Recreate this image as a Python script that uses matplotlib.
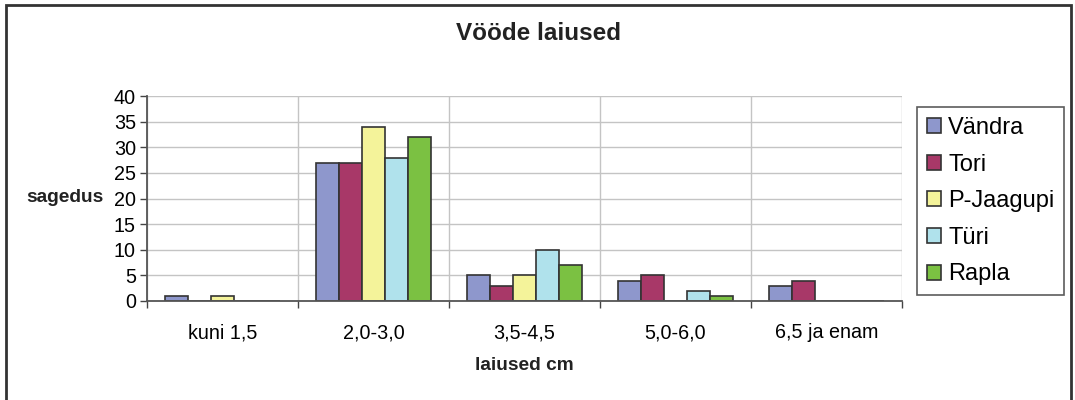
#bar chart of belt widths, Excel style

import matplotlib.pyplot as plt
import numpy as ny
from matplotlib.patches import Rectangle

plt.rcParams['font.family'] = ['Liberation Sans', 'DejaVu Sans']

categories = ['kuni 1,5', '2,0-3,0', '3,5-4,5', '5,0-6,0', '6,5 ja enam']
vandra = [1, 27, 5, 4, 3]
tori = [0, 27, 3, 5, 4]
p_jaagupi = [1, 34, 5, 0, 0]
turi = [0, 28, 10, 2, 0]
rapla = [0, 32, 7, 1, 0]

series = [('Vändra', vandra, '#8e97cc'),
          ('Tori', tori, '#a83868'),
          ('P-Jaagupi', p_jaagupi, '#f4f39a'),
          ('Türi', turi, '#b0e2ec'),
          ('Rapla', rapla, '#7bc142')]

W, H = 1075, 400
fig = plt.figure(figsize=(W / 100, H / 100), dpi=100)

# plot area in pixels: left 147, right 902, top 96, bottom 301
ax = fig.add_axes([147 / W, (H - 301) / H, (902 - 147) / W, (301 - 96) / H])

x = ny.arange(len(categories))
w = 0.152
for i, (name, vals, col) in enumerate(series):
    ax.bar(x + (i - 2) * w, vals, w, color=col, edgecolor='#333333',
           linewidth=1.2, label=name, zorder=3)

ax.set_xlim(-0.5, len(categories) - 0.5)
ax.set_ylim(0, 40)
ax.set_yticks(range(0, 41, 5))
ax.set_xticks(x)
ax.set_xticklabels(categories)
ax.set_xticks(ny.arange(-0.5, len(categories)), minor=True)
ax.tick_params(axis='x', which='major', length=0, labelsize=14.2, pad=16)
ax.tick_params(axis='x', which='minor', length=5, width=1, color='#444444')
ax.tick_params(axis='y', length=5, width=1, color='#444444', labelsize=14.2, pad=3)

ax.grid(True, axis='y', color='#c4c4c4', linewidth=1, zorder=0)
ax.grid(True, axis='x', which='minor', color='#c4c4c4', linewidth=1, zorder=0)
ax.grid(False, axis='x', which='major')

for s in ['top', 'right']:
    ax.spines[s].set_visible(False)
for s in ['left', 'bottom']:
    ax.spines[s].set_color('#555555')
    ax.spines[s].set_linewidth(1.3)
    ax.spines[s].set_zorder(4)

fig.text(539 / W, 1 - 34 / H, 'Vööde laiused', ha='center', va='center',
         fontsize=17.5, fontweight='bold', color='#222222')
fig.text(104 / W, 1 - 198 / H, 'sagedus', ha='right', va='center',
         fontsize=13.8, fontweight='bold', color='#222222')
fig.text(524 / W, 1 - 366 / H, 'laiused cm', ha='center', va='center',
         fontsize=13.8, fontweight='bold', color='#222222')

leg = fig.legend(loc='upper left', bbox_to_anchor=(917 / W, 1 - 107 / H),
                 fontsize=17, frameon=True, fancybox=False, edgecolor='#333333',
                 handlelength=0.6, handleheight=0.6, handletextpad=0.3,
                 labelspacing=0.62, borderpad=0.42, borderaxespad=0)
leg.get_frame().set_linewidth(1.2)

# outer chart border
fig.patches.append(Rectangle((6 / W, -0.05), (1071 - 6) / W, 1 - 5 / H + 0.05,
                             transform=fig.transFigure, fill=False,
                             edgecolor='#333333', linewidth=2))

fig.savefig('out.png', dpi=100)
